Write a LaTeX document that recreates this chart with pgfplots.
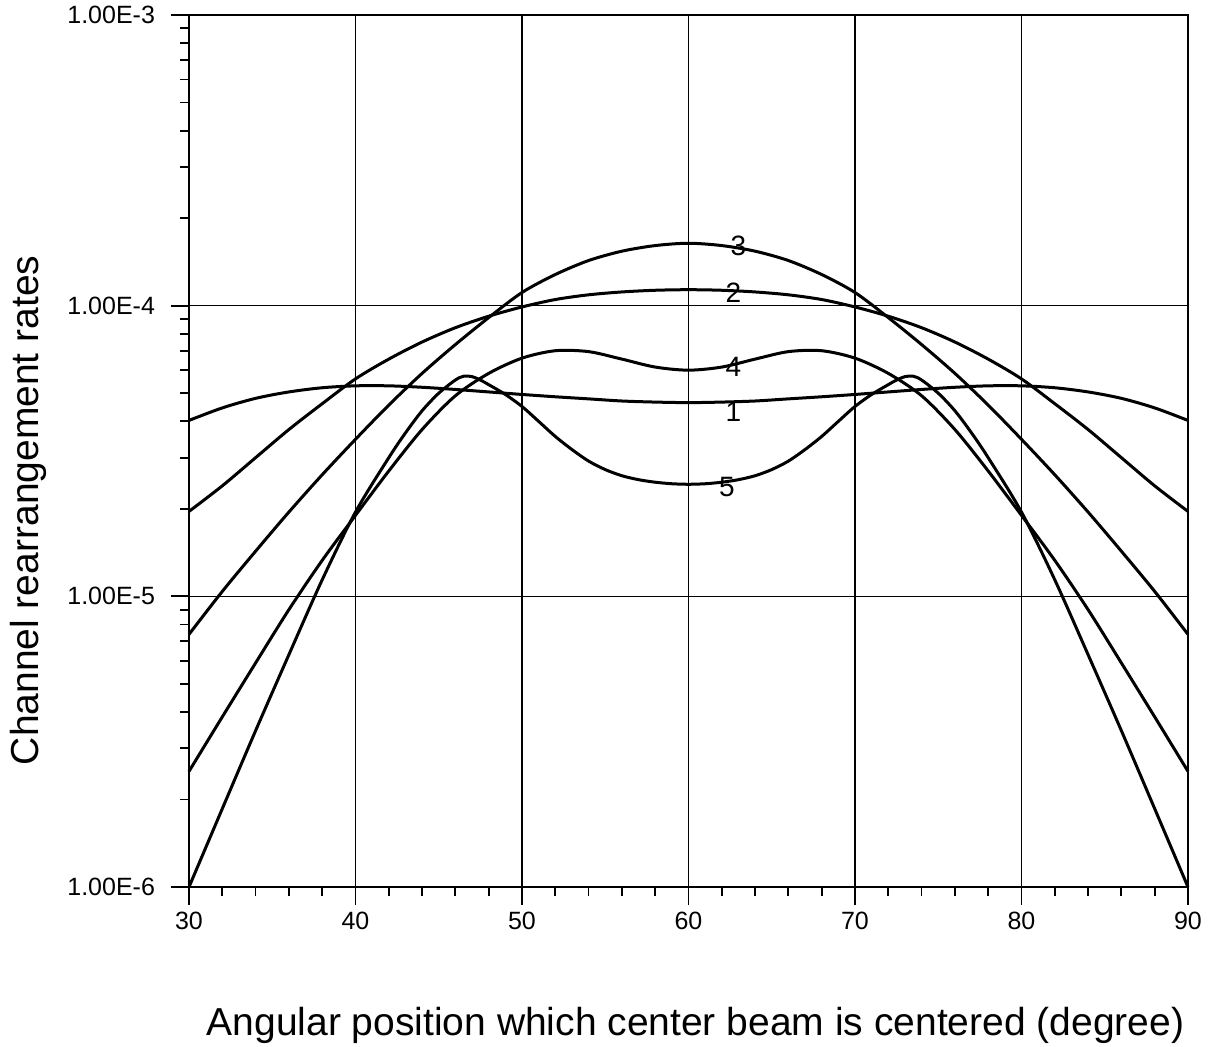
\documentclass[border=0pt]{standalone}
\usepackage{fontspec}
\setmainfont{Liberation Sans}
\usepackage{pgfplots}
\pgfplotsset{compat=1.18}
\begin{document}
\begin{tikzpicture}
\useasboundingbox (-94.5pt,-79.5pt) rectangle (511pt,443.5pt);
\begin{axis}[
  at={(0pt,0pt)}, anchor=south west,
  scale only axis, width=499.5pt, height=436pt,
  ymode=log, xmin=30, xmax=90, ymin=1e-6, ymax=1e-3,
  axis line style={line width=1.4pt},
  xtick={30,40,50,60,70,80,90},
  xticklabels={30,40,50,60,70,80,90},
  minor x tick num=4,
  ytick={1e-6,1e-5,1e-4,1e-3},
  yticklabels={1.00E-6,1.00E-5,1.00E-4,1.00E-3},
  xtick pos=bottom, ytick pos=left,
  tick align=outside,
  major tick length=9pt, minor tick length=4.5pt,
  every tick/.style={black, line width=0.9pt},
  grid=major,
  major grid style={black, line width=0.8pt},
  ticklabel style={font=\fontsize{12.5}{14}\selectfont},
  yticklabel style={xshift=-4.5pt},
  xlabel={Angular position which center beam is centered (degree)},
  ylabel={Channel rearrangement rates},
  xlabel style={font=\fontsize{19.5}{22}\selectfont, at={(axis description cs:0.5,0)}, anchor=base, yshift=-74pt, xshift=3.5pt},
  ylabel style={font=\fontsize{19.5}{22}\selectfont, at={(axis description cs:0,0.432)}, anchor=base, yshift=75pt},
  clip=false,
  curve/.style={black, line width=1.5pt, smooth, no markers},
]
% curve 1
\addplot[curve] coordinates {(30,4.03e-5)(32,4.45e-5)(34,4.8e-5)(36,5.05e-5)(38,5.22e-5)(40,5.3e-5)(42,5.3e-5)(44,5.24e-5)(46,5.15e-5)(48,5.05e-5)(50,4.95e-5)(52,4.86e-5)(54,4.78e-5)(56,4.7e-5)(58,4.66e-5)(60,4.64e-5)(62,4.66e-5)(64,4.7e-5)(66,4.78e-5)(68,4.86e-5)(70,4.95e-5)(72,5.05e-5)(74,5.15e-5)(76,5.24e-5)(78,5.3e-5)(80,5.3e-5)(82,5.22e-5)(84,5.05e-5)(86,4.8e-5)(88,4.45e-5)(90,4.03e-5)};
% curve 2
\addplot[curve] coordinates {(30,1.96e-5)(32,2.4e-5)(34,3.0e-5)(36,3.75e-5)(38,4.6e-5)(40,5.6e-5)(42,6.55e-5)(44,7.5e-5)(46,8.4e-5)(48,9.2e-5)(50,9.9e-5)(52,1.05e-4)(54,1.09e-4)(56,1.115e-4)(58,1.13e-4)(60,1.135e-4)(62,1.13e-4)(64,1.115e-4)(66,1.09e-4)(68,1.05e-4)(70,9.9e-5)(72,9.2e-5)(74,8.4e-5)(76,7.5e-5)(78,6.55e-5)(80,5.6e-5)(82,4.6e-5)(84,3.75e-5)(86,3.0e-5)(88,2.4e-5)(90,1.96e-5)};
% curve 3
\addplot[curve] coordinates {(30,7.4e-6)(32,1.04e-5)(34,1.43e-5)(36,1.95e-5)(38,2.62e-5)(40,3.47e-5)(42,4.55e-5)(44,5.85e-5)(46,7.35e-5)(48,9.1e-5)(50,1.11e-4)(52,1.28e-4)(54,1.43e-4)(56,1.54e-4)(58,1.61e-4)(60,1.64e-4)(62,1.61e-4)(64,1.54e-4)(66,1.43e-4)(68,1.28e-4)(70,1.11e-4)(72,9.1e-5)(74,7.35e-5)(76,5.85e-5)(78,4.55e-5)(80,3.47e-5)(82,2.62e-5)(84,1.95e-5)(86,1.43e-5)(88,1.04e-5)(90,7.4e-6)};
% curve 4
\addplot[curve] coordinates {(30,2.5e-6)(32,3.85e-6)(34,5.9e-6)(36,9.0e-6)(38,1.33e-5)(40,1.9e-5)(42,2.7e-5)(44,3.75e-5)(46,4.9e-5)(48,5.85e-5)(50,6.6e-5)(52,7.0e-5)(54,6.95e-5)(56,6.55e-5)(58,6.15e-5)(60,6.0e-5)(62,6.15e-5)(64,6.55e-5)(66,6.95e-5)(68,7.0e-5)(70,6.6e-5)(72,5.85e-5)(74,4.9e-5)(76,3.75e-5)(78,2.7e-5)(80,1.9e-5)(82,1.33e-5)(84,9.0e-6)(86,5.9e-6)(88,3.85e-6)(90,2.5e-6)};
% curve 5
\addplot[curve] coordinates {(30,1.0e-6)(32,1.86e-6)(34,3.45e-6)(36,6.3e-6)(38,1.14e-5)(40,1.95e-5)(42,3.0e-5)(43,3.65e-5)(44,4.35e-5)(45,5.0e-5)(46,5.55e-5)(46.5,5.72e-5)(47,5.7e-5)(47.5,5.55e-5)(48,5.35e-5)(49,4.95e-5)(50,4.5e-5)(51,4.0e-5)(52,3.55e-5)(53,3.2e-5)(54,2.92e-5)(55,2.73e-5)(56,2.6e-5)(57,2.52e-5)(58,2.47e-5)(59,2.44e-5)(60,2.43e-5)(61,2.44e-5)(62,2.47e-5)(63,2.52e-5)(64,2.6e-5)(65,2.73e-5)(66,2.92e-5)(67,3.2e-5)(68,3.55e-5)(69,4.0e-5)(70,4.5e-5)(71,4.95e-5)(72,5.35e-5)(72.5,5.55e-5)(73,5.7e-5)(73.5,5.72e-5)(74,5.55e-5)(75,5.0e-5)(76,4.35e-5)(77,3.65e-5)(78,3.0e-5)(80,1.95e-5)(82,1.14e-5)(84,6.3e-6)(86,3.45e-6)(88,1.86e-6)(90,1.0e-6)};
\node[font=\fontsize{14}{16}\selectfont] at (axis cs:63.0,1.61e-4) {3};
\node[font=\fontsize{14}{16}\selectfont] at (axis cs:62.7,1.11e-4) {2};
\node[font=\fontsize{14}{16}\selectfont] at (axis cs:62.7,6.17e-5) {4};
\node[font=\fontsize{14}{16}\selectfont] at (axis cs:62.7,4.32e-5) {1};
\node[font=\fontsize{14}{16}\selectfont] at (axis cs:62.3,2.37e-5) {5};
\end{axis}
\end{tikzpicture}
\end{document}
